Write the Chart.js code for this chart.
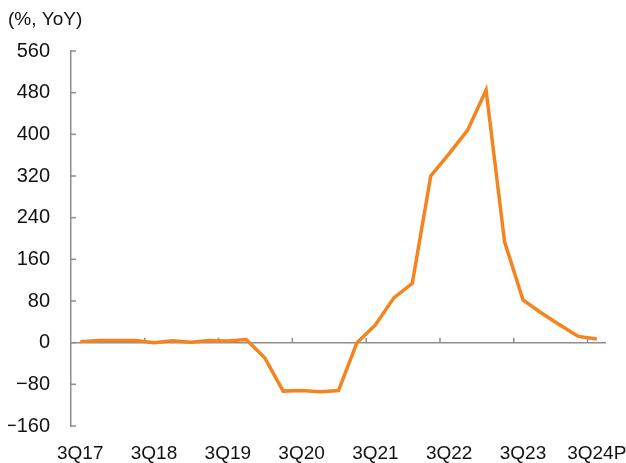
<!DOCTYPE html>
<html>
<head>
<meta charset="utf-8">
<script src="https://cdn.jsdelivr.net/npm/chart.js@4"></script>
<style>
  html, body { margin: 0; padding: 0; background: #ffffff; }
  canvas { display: block; }
</style>
</head>
<body>
<canvas id="c" width="626" height="463"></canvas>
<script>
const categories = ['3Q17','4Q17','1Q18','2Q18','3Q18','4Q18','1Q19','2Q19','3Q19','4Q19',
  '1Q20','2Q20','3Q20','4Q20','1Q21','2Q21','3Q21','4Q21','1Q22','2Q22','3Q22','4Q22',
  '1Q23','2Q23','3Q23','4Q23','1Q24','2Q24','3Q24P'];
const yoyValues = [2, 4, 4, 4, 0, 3.5, 1, 4, 3, 6, -29, -93, -92, -94, -92, 0, 34, 86, 114,
  320, 363, 408, 485, 194, 82, 57, 34, 12, 7];
const yMin = -160, yMax = 560, yStep = 80;
const labelEvery = 4;
const unitLabel = '(%, YoY)';

const AXIS_COLOR = '#8e8e8e';
const LINE_COLOR = '#F5841F';
const FONT = '"Liberation Sans", Arial, sans-serif';

const axesPlugin = {
  id: 'axesPlugin',
  beforeDatasetsDraw(chart) {
    const ctx = chart.ctx;
    const x = chart.scales.x, y = chart.scales.y;
    const area = chart.chartArea;
    const y0 = y.getPixelForValue(0);
    ctx.save();
    ctx.strokeStyle = AXIS_COLOR;
    ctx.lineWidth = 1.5;
    ctx.beginPath();
    ctx.moveTo(area.left, y0);
    ctx.lineTo(area.right, y0);
    ctx.stroke();
    y.ticks.forEach(t => {
      const py = y.getPixelForValue(t.value);
      ctx.beginPath();
      ctx.moveTo(area.left, py);
      ctx.lineTo(area.left + 5, py);
      ctx.stroke();
    });
    for (let i = labelEvery; i < categories.length; i += labelEvery) {
      const px = (x.getPixelForValue(i - 1) + x.getPixelForValue(i)) / 2;
      ctx.beginPath();
      ctx.moveTo(px, y0);
      ctx.lineTo(px, y0 - 5);
      ctx.stroke();
    }
    ctx.restore();
  },
  afterDraw(chart) {
    const ctx = chart.ctx;
    ctx.save();
    ctx.fillStyle = '#111111';
    ctx.font = '19px ' + FONT;
    ctx.textBaseline = 'middle';
    ctx.textAlign = 'left';
    ctx.fillText(unitLabel, 8, 20);
    ctx.restore();
  }
};

new Chart(document.getElementById('c'), {
  type: 'line',
  data: {
    labels: categories,
    datasets: [{
      data: yoyValues,
      borderColor: LINE_COLOR,
      backgroundColor: LINE_COLOR,
      borderWidth: 3.5,
      pointRadius: 0,
      tension: 0,
      fill: false,
      clip: false
    }]
  },
  options: {
    responsive: false,
    animation: false,
    devicePixelRatio: 1,
    layout: { padding: { top: 51, left: 8, right: 20, bottom: 0 } },
    plugins: { legend: { display: false }, title: { display: false }, tooltip: { enabled: false } },
    scales: {
      x: {
        type: 'category',
        offset: true,
        grid: { display: false, drawTicks: false, tickLength: 0 },
        border: { display: false },
        ticks: {
          autoSkip: false,
          maxRotation: 0,
          minRotation: 0,
          padding: 16,
          color: '#111111',
          font: { family: FONT, size: 19 },
          callback: function(v, i) { return i % labelEvery === 0 ? categories[i] : null; }
        },
        afterFit(scale) {
          scale.height = 37;
          scale.paddingLeft = 0;
          scale.paddingRight = 0;
        }
      },
      y: {
        min: yMin,
        max: yMax,
        grid: { display: false, drawTicks: false, tickLength: 0 },
        border: { display: true, color: AXIS_COLOR, width: 1.5 },
        ticks: {
          stepSize: yStep,
          padding: 21,
          color: '#111111',
          font: { family: FONT, size: 20 },
          callback: function(v) { return String(v).replace('-', '\u2212'); }
        },
        afterFit(scale) { scale.width = 63; }
      }
    }
  },
  plugins: [axesPlugin]
});
</script>
</body>
</html>
